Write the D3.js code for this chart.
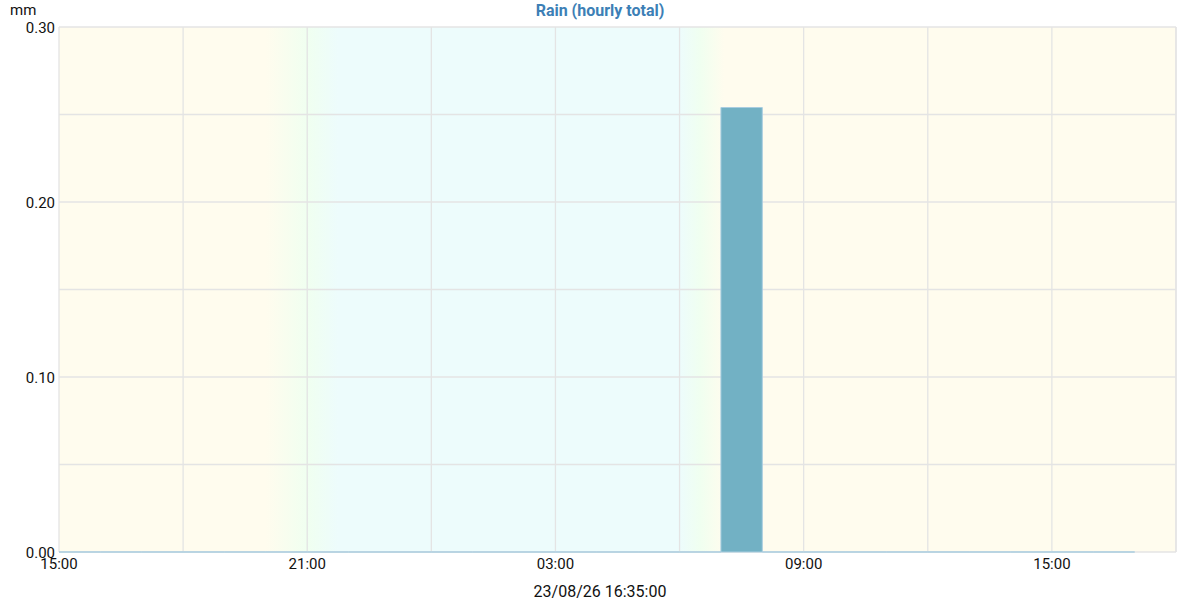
<!DOCTYPE html>
<html>
<head>
<meta charset="utf-8">
<script src="https://cdn.jsdelivr.net/npm/d3@7"></script>
<style>
  html, body { margin: 0; padding: 0; background: #fff; }
  svg { display: block; font-family: Roboto, "Noto Sans", sans-serif; }
</style>
</head>
<body>
<svg id="chart" width="1200" height="600"></svg>
<script>
// ---- data ----
const title = "Rain (hourly total)";
const unitLabel = "mm";
const footerLabel = "23/08/26 16:35:00";
const domainStart = "2023-08-25T15:00";
const domainEnd = "2023-08-26T18:00";
const hourStarts = [
  "2023-08-25T15:00","2023-08-25T16:00","2023-08-25T17:00","2023-08-25T18:00",
  "2023-08-25T19:00","2023-08-25T20:00","2023-08-25T21:00","2023-08-25T22:00",
  "2023-08-25T23:00","2023-08-26T00:00","2023-08-26T01:00","2023-08-26T02:00",
  "2023-08-26T03:00","2023-08-26T04:00","2023-08-26T05:00","2023-08-26T06:00",
  "2023-08-26T07:00","2023-08-26T08:00","2023-08-26T09:00","2023-08-26T10:00",
  "2023-08-26T11:00","2023-08-26T12:00","2023-08-26T13:00","2023-08-26T14:00",
  "2023-08-26T15:00","2023-08-26T16:00"
];
const rainValues = [
  0,0,0,0,0,0,0,0,0,0,0,0,0,0,0,0,
  0.254,
  0,0,0,0,0,0,0,0,0
];
const yTickValues = [0, 0.10, 0.20, 0.30];
const yGridValues = [0, 0.05, 0.10, 0.15, 0.20, 0.25, 0.30];
const xLabelTimes = ["2023-08-25T15:00","2023-08-25T21:00","2023-08-26T03:00","2023-08-26T09:00","2023-08-26T15:00"];
// day / night background stops (time, phase)
const skyStopTimes = [
  "2023-08-25T15:00","2023-08-25T20:00","2023-08-25T21:00","2023-08-25T21:45",
  "2023-08-26T06:00","2023-08-26T06:30","2023-08-26T07:05","2023-08-26T18:00"
];
const skyStopPhases = ["day","day","twilight","night","night","twilight","day","day"];
const phaseColors = { day: "#fffcee", twilight: "#f0fff0", night: "#edfcfc" };

// ---- layout ----
const svg = d3.select("#chart");
const margin = { left: 59, right: 24, top: 27, bottom: 48 };
const W = 1200, H = 600;
const x0 = margin.left, x1 = W - margin.right;
const y0 = H - margin.bottom, y1 = margin.top;

const parse = d3.timeParse("%Y-%m-%dT%H:%M");
const x = d3.scaleTime().domain([parse(domainStart), parse(domainEnd)]).range([x0, x1]);
const y = d3.scaleLinear().domain([0, 0.30]).range([y0, y1]);

// background gradient
const defs = svg.append("defs");
const grad = defs.append("linearGradient").attr("id", "sky")
  .attr("gradientUnits", "userSpaceOnUse")
  .attr("x1", x0).attr("x2", x1).attr("y1", 0).attr("y2", 0);
skyStopTimes.forEach((t, i) => {
  grad.append("stop")
    .attr("offset", (x(parse(t)) - x0) / (x1 - x0))
    .attr("stop-color", phaseColors[skyStopPhases[i]]);
});
svg.append("rect").attr("x", x0).attr("y", y1).attr("width", x1 - x0).attr("height", y0 - y1)
  .attr("fill", "url(#sky)");

// grid
const xGridTicks = x.ticks(d3.timeHour.every(3));
svg.append("g").selectAll("line").data(xGridTicks).join("line")
  .attr("x1", d => x(d)).attr("x2", d => x(d)).attr("y1", y1).attr("y2", y0)
  .attr("stroke", "#e4e4e4").attr("stroke-width", 1.3);
svg.append("g").selectAll("line").data(yGridValues).join("line")
  .attr("x1", x0).attr("x2", x1).attr("y1", d => y(d)).attr("y2", d => y(d))
  .attr("stroke", "#e4e4e4").attr("stroke-width", 1.3);
svg.append("line").attr("x1", x1).attr("x2", x1).attr("y1", y1).attr("y2", y0)
  .attr("stroke", "#e4e4e4").attr("stroke-width", 1.3);

// bars
const bars = hourStarts.map((t, i) => ({ t: parse(t), v: rainValues[i] }));
svg.append("g").selectAll("path").data(bars).join("path")
  .attr("d", d => {
    const p = d3.path();
    const xa = x(d.t), xb = x(d3.timeHour.offset(d.t, 1));
    p.moveTo(xa, y(0)); p.lineTo(xa, y(d.v)); p.lineTo(xb, y(d.v)); p.lineTo(xb, y(0)); p.closePath();
    return p.toString();
  })
  .attr("fill", "#72b1c4")
  .attr("stroke", "#a9cde0").attr("stroke-width", 1);

// y axis labels
svg.append("g").selectAll("text").data(yTickValues).join("text")
  .attr("x", 55).attr("y", d => y(d) + 1).attr("dy", "0.35em")
  .attr("text-anchor", "end").attr("font-size", 15).attr("fill", "#111")
  .text(d => d3.format(".2f")(d));

// x axis labels
svg.append("g").selectAll("text").data(xLabelTimes.map(parse)).join("text")
  .attr("x", d => x(d)).attr("y", y0 + 12).attr("dy", "0.35em")
  .attr("text-anchor", "middle").attr("font-size", 15).attr("fill", "#111")
  .text(d => d3.timeFormat("%H:%M")(d));

// unit
svg.append("text").attr("x", 10).attr("y", 10).attr("dy", "0.35em")
  .attr("font-size", 15).attr("fill", "#111").text(unitLabel);
// title
svg.append("text").attr("x", 600).attr("y", 10).attr("dy", "0.35em")
  .attr("text-anchor", "middle").attr("font-size", 16).attr("font-weight", "bold")
  .attr("fill", "#3d7fb6").text(title);
// footer
svg.append("text").attr("x", 600).attr("y", 592).attr("dy", "0.3em")
  .attr("text-anchor", "middle").attr("font-size", 16).attr("fill", "#111").text(footerLabel);
</script>
</body>
</html>
